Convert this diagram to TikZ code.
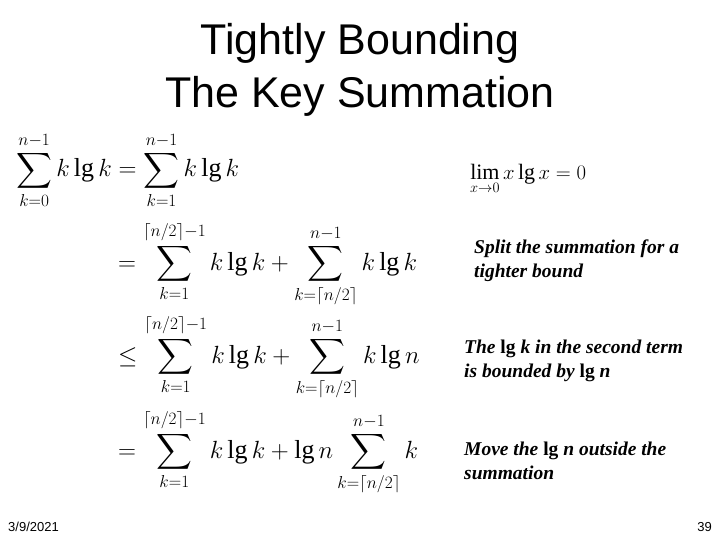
\documentclass[tikz,border=0pt]{standalone}
\usepackage{amsmath}
\usepackage{fontspec}
\setmainfont{Liberation Serif}
\newfontfamily\arial{Liberation Sans}
\begin{document}
\begin{tikzpicture}[x=1pt,y=-1pt,
  eq/.style={anchor=base west,inner sep=0,font=\fontsize{26}{30}\selectfont},
  note/.style={anchor=north west,inner sep=0,align=left,font=\fontsize{19.5}{24}\selectfont\bfseries\itshape},
  ttl/.style={inner sep=0,font=\arial\fontsize{43}{53}\selectfont,align=center},
  foot/.style={inner sep=0,font=\arial\fontsize{13}{15}\selectfont}]
\useasboundingbox (0,0) rectangle (720,540);
\node[ttl] (t) at (360,70) {Tightly Bounding\\The Key Summation};
\node[eq] (e1) at (16,177) {$\displaystyle\sum_{k=0}^{n-1}k\lg k=\sum_{k=1}^{n-1}k\lg k$};
\node[eq] (e2) at (118,270) {$\displaystyle=\sum_{k=1}^{\lceil n/2\rceil-1}k\lg k+\sum_{k=\lceil n/2\rceil}^{n-1}k\lg k$};
\node[eq] (e3) at (118,363) {$\displaystyle\le\sum_{k=1}^{\lceil n/2\rceil-1}k\lg k+\sum_{k=\lceil n/2\rceil}^{n-1}k\lg n$};
\node[eq] (e4) at (118,458) {$\displaystyle=\sum_{k=1}^{\lceil n/2\rceil-1}k\lg k+\lg n\sum_{k=\lceil n/2\rceil}^{n-1}k$};
\node[anchor=base west,inner sep=0,font=\fontsize{22}{24}\selectfont] (lim) at (470,180) {$\lim\limits_{x\to0}{\textstyle x\lg x=0}$};
\node[note] (n1) at (474,240) {Split the summation for a\\tighter bound};
\node[note] (n2) at (464,340) {The \textup{lg} k in the second term\\is bounded by \textup{lg} n};
\node[note] (n3) at (464,442) {Move the \textup{lg} n outside the\\summation};
\node[foot,anchor=west] (d) at (8,527) {3/9/2021};
\node[foot,anchor=east] (p) at (712,527) {39};
\end{tikzpicture}
\end{document}
